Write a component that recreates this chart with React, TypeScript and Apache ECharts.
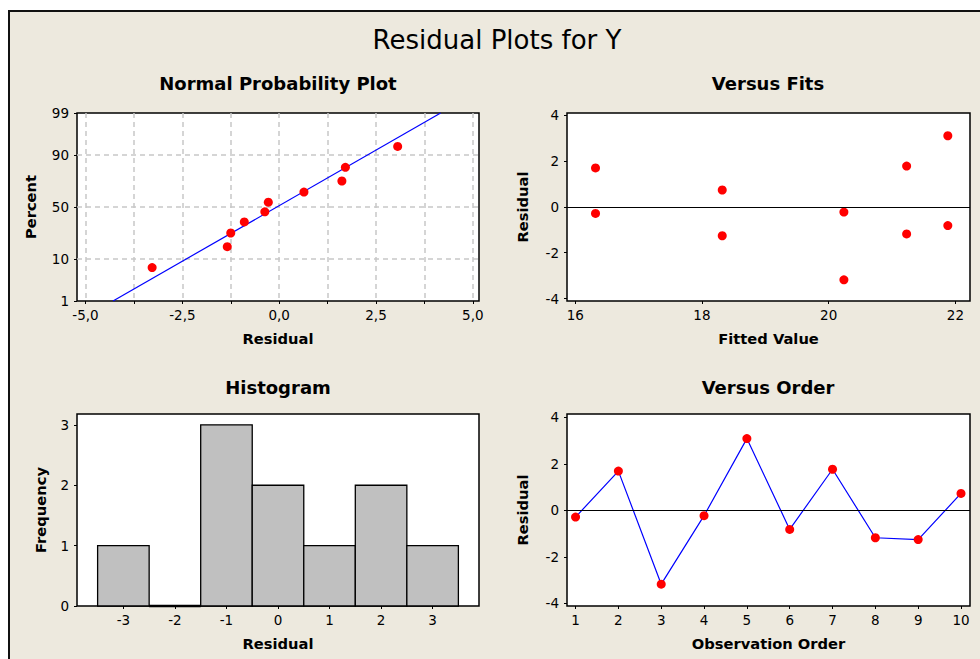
import React, { useEffect, useRef } from 'react';
import * as echarts from 'echarts';

// ---------- data ----------
const observationOrder = [1, 2, 3, 4, 5, 6, 7, 8, 9, 10];
const residuals = [-0.29, 1.69, -3.18, -0.23, 3.09, -0.82, 1.77, -1.18, -1.26, 0.73];
const fittedValues = [16.32, 16.32, 20.24, 20.24, 21.88, 21.88, 21.23, 21.23, 18.32, 18.32];

const normalResiduals = [-3.28, -1.34, -1.25, -0.9, -0.37, -0.28, 0.64, 1.62, 1.71, 3.06];
const normalPercents = [6.7, 16.3, 26.0, 35.6, 45.2, 54.8, 64.4, 74.0, 83.7, 93.3];
const fitLineResiduals = [-4.29, 4.17];
const fitLinePercents = [1, 99];

const histCenters = [-3, -2, -1, 0, 1, 2, 3];
const histCounts = [1, 0, 3, 2, 1, 2, 1];
const histBinWidth = 1;

const percentTicks = [1, 10, 50, 90, 99];
const normalXTicks = [-5, -2.5, 0, 2.5, 5];
const normalXGrid = [-5, -3.75, -2.5, -1.25, 0, 1.25, 2.5, 3.75, 5];
const fitsXTicks = [16, 18, 20, 22];
const residualTicks = [-4, -2, 0, 2, 4];
const orderTicks = [1, 2, 3, 4, 5, 6, 7, 8, 9, 10];
const histXTicks = [-3, -2, -1, 0, 1, 2, 3];
const freqTicks = [0, 1, 2, 3];

// ---------- normal probability scale ----------
function probit(p: number): number {
  const a = [-3.969683028665376e1, 2.209460984245205e2, -2.759285104469687e2, 1.38357751867269e2, -3.066479806614716e1, 2.506628277459239];
  const b = [-5.447609879822406e1, 1.615858368580409e2, -1.556989798598866e2, 6.680131188771972e1, -1.328068155288572e1];
  const c = [-7.784894002430293e-3, -3.223964580411365e-1, -2.400758277161838, -2.549732539343734, 4.374664141464968, 2.938163982698783];
  const d = [7.784695709041462e-3, 3.224671290700398e-1, 2.445134137142996, 3.754408661907416];
  const pl = 0.02425;
  const ph = 1 - pl;
  let q: number, r: number;
  if (p < pl) {
    q = Math.sqrt(-2 * Math.log(p));
    return (((((c[0] * q + c[1]) * q + c[2]) * q + c[3]) * q + c[4]) * q + c[5]) / ((((d[0] * q + d[1]) * q + d[2]) * q + d[3]) * q + 1);
  }
  if (p <= ph) {
    q = p - 0.5;
    r = q * q;
    return ((((((a[0] * r + a[1]) * r + a[2]) * r + a[3]) * r + a[4]) * r + a[5]) * q) / (((((b[0] * r + b[1]) * r + b[2]) * r + b[3]) * r + b[4]) * r + 1);
  }
  q = Math.sqrt(-2 * Math.log(1 - p));
  return -(((((c[0] * q + c[1]) * q + c[2]) * q + c[3]) * q + c[4]) * q + c[5]) / ((((d[0] * q + d[1]) * q + d[2]) * q + d[3]) * q + 1);
}
const pz = (pct: number) => probit(pct / 100);

const FONT = '"DejaVu Sans", Verdana, sans-serif';
const BG = '#EDE9DE';

export default function App() {
  const ref = useRef<HTMLDivElement>(null);

  useEffect(() => {
    if (!ref.current) return;
    const chart = echarts.init(ref.current, undefined, { renderer: 'svg' });

    const tickLabel = { color: '#000', fontFamily: FONT, fontSize: 13.5, margin: 7 };
    const nameStyle = { color: '#000', fontFamily: FONT, fontSize: 14.7, fontWeight: 'bold' as const };
    const tick = { show: true, length: 3, lineStyle: { color: '#000', width: 1 } };
    const dot = { color: '#FF0000', opacity: 1 };

    const baseAxis = (gridIndex: number, extra: any) => ({
      type: 'value',
      gridIndex,
      nameLocation: 'middle',
      nameTextStyle: nameStyle,
      axisLine: { show: false, onZero: false },
      splitLine: { show: false },
      ...extra,
    });

    const zeroLine = {
      silent: true,
      symbol: 'none',
      label: { show: false },
      lineStyle: { color: '#000', width: 1, type: 'solid' },
      data: [{ yAxis: 0 }],
    };

    const subtitle = (text: string, x: number, y: number) => ({
      type: 'text',
      x,
      y,
      style: {
        text,
        fill: '#000',
        fontFamily: FONT,
        fontSize: 18,
        fontWeight: 'bold',
        align: 'center',
        verticalAlign: 'middle',
        textAlign: 'center',
        textVerticalAlign: 'middle',
      },
    });

    const option: any = {
      animation: false,
      backgroundColor: BG,
      graphic: [
        { type: 'rect', shape: { x: 0, y: 0, width: 980, height: 10 }, style: { fill: '#fff' } },
        { type: 'rect', shape: { x: 0, y: 0, width: 8, height: 659 }, style: { fill: '#fff' } },
        { type: 'line', shape: { x1: 8, y1: 11, x2: 980, y2: 11 }, style: { stroke: '#111', lineWidth: 2 } },
        { type: 'line', shape: { x1: 9, y1: 10, x2: 9, y2: 659 }, style: { stroke: '#111', lineWidth: 2 } },
        {
          type: 'text',
          x: 497,
          y: 40,
          style: {
            text: 'Residual Plots for Y',
            fill: '#000',
            fontFamily: FONT,
            fontSize: 26,
            align: 'center',
            verticalAlign: 'middle',
            textAlign: 'center',
            textVerticalAlign: 'middle',
          },
        },
        subtitle('Normal Probability Plot', 278, 83),
        subtitle('Versus Fits', 768, 83),
        subtitle('Histogram', 278, 387),
        subtitle('Versus Order', 768, 387),
      ],
      grid: [
        { left: 77, top: 113, width: 402, height: 188 },
        { left: 567, top: 113, width: 403, height: 188 },
        { left: 77, top: 414, width: 402, height: 192 },
        { left: 567, top: 414, width: 403, height: 192 },
      ].map((g) => ({ ...g, show: true, backgroundColor: '#fff', borderColor: '#000', borderWidth: 1.5 })),
      xAxis: [
        baseAxis(0, {
          min: -5.22,
          max: 5.16,
          name: 'Residual',
          nameGap: 30,
          axisTick: { ...tick, customValues: normalXGrid },
          axisLabel: {
            ...tickLabel,
            customValues: normalXTicks,
            formatter: (v: number) => v.toFixed(1).replace('.', ','),
          },
          splitLine: {
            show: true,
            showMinLine: true,
            showMaxLine: true,
            lineStyle: { color: '#C8C8C8', width: 1.5, type: [5, 4] },
          },
        }),
        baseAxis(1, {
          min: 15.87,
          max: 22.23,
          name: 'Fitted Value',
          nameGap: 30,
          axisTick: { ...tick, customValues: fitsXTicks },
          axisLabel: { ...tickLabel, customValues: fitsXTicks },
        }),
        baseAxis(2, {
          min: -3.9,
          max: 3.9,
          name: 'Residual',
          nameGap: 30,
          axisTick: { ...tick, customValues: histXTicks },
          axisLabel: { ...tickLabel, customValues: histXTicks },
        }),
        baseAxis(3, {
          min: 0.8,
          max: 10.21,
          name: 'Observation Order',
          nameGap: 30,
          axisTick: { ...tick, customValues: orderTicks },
          axisLabel: { ...tickLabel, customValues: orderTicks },
        }),
      ],
      yAxis: [
        baseAxis(0, {
          min: pz(1),
          max: pz(99),
          name: 'Percent',
          nameGap: 39,
          axisTick: { ...tick, customValues: percentTicks.map(pz) },
          axisLabel: {
            ...tickLabel,
            margin: 8,
            customValues: percentTicks.map(pz),
            formatter: (v: number) => {
              let best = percentTicks[0];
              for (const p of percentTicks) if (Math.abs(pz(p) - v) < Math.abs(pz(best) - v)) best = p;
              return String(best);
            },
          },
          splitLine: {
            show: true,
            showMinLine: false,
            showMaxLine: false,
            lineStyle: { color: '#C8C8C8', width: 1.5, type: [5, 4] },
          },
        }),
        baseAxis(1, {
          min: -4.1,
          max: 4.08,
          name: 'Residual',
          nameGap: 37,
          axisTick: { ...tick, customValues: residualTicks },
          axisLabel: { ...tickLabel, margin: 8, customValues: residualTicks },
        }),
        baseAxis(2, {
          min: 0,
          max: 3.18,
          name: 'Frequency',
          nameGap: 29,
          axisTick: { ...tick, customValues: freqTicks },
          axisLabel: { ...tickLabel, margin: 8, customValues: freqTicks },
        }),
        baseAxis(3, {
          min: -4.12,
          max: 4.15,
          name: 'Residual',
          nameGap: 37,
          axisTick: { ...tick, customValues: residualTicks },
          axisLabel: { ...tickLabel, margin: 8, customValues: residualTicks },
        }),
      ],
      series: [
        {
          type: 'line',
          xAxisIndex: 0,
          yAxisIndex: 0,
          data: fitLineResiduals.map((r, i) => [r, pz(fitLinePercents[i])]),
          showSymbol: false,
          symbol: 'none',
          lineStyle: { color: '#0000FF', width: 1.2 },
          z: 2,
        },
        {
          type: 'scatter',
          xAxisIndex: 0,
          yAxisIndex: 0,
          data: normalResiduals.map((r, i) => [r, pz(normalPercents[i])]),
          symbol: 'circle',
          symbolSize: 9,
          itemStyle: dot,
          z: 3,
        },
        {
          type: 'scatter',
          xAxisIndex: 1,
          yAxisIndex: 1,
          data: fittedValues.map((f, i) => [f, residuals[i]]),
          symbol: 'circle',
          symbolSize: 9,
          itemStyle: dot,
          markLine: zeroLine,
          z: 3,
        },
        {
          type: 'custom',
          xAxisIndex: 2,
          yAxisIndex: 2,
          data: histCenters.map((c, i) => [c, histCounts[i]]),
          renderItem: (params: any, api: any) => {
            const x = api.value(0);
            const y = api.value(1);
            const p0 = api.coord([x - histBinWidth / 2, y]);
            const p1 = api.coord([x + histBinWidth / 2, 0]);
            return {
              type: 'rect',
              shape: { x: p0[0], y: p0[1], width: p1[0] - p0[0], height: p1[1] - p0[1] },
              style: { fill: '#C0C0C0', stroke: '#000', lineWidth: y === 0 ? 2.5 : 1.3 },
            };
          },
          z: 3,
        },
        {
          type: 'line',
          xAxisIndex: 3,
          yAxisIndex: 3,
          data: observationOrder.map((o, i) => [o, residuals[i]]),
          symbol: 'circle',
          symbolSize: 9,
          showSymbol: true,
          lineStyle: { color: '#0000FF', width: 1.2 },
          itemStyle: dot,
          markLine: zeroLine,
          z: 3,
        },
      ],
    };

    chart.setOption(option);
    return () => chart.dispose();
  }, []);

  return (
    <div
      ref={ref}
      style={{ position: 'fixed', left: 0, top: 0, width: 980, height: 659 }}
    />
  );
}
